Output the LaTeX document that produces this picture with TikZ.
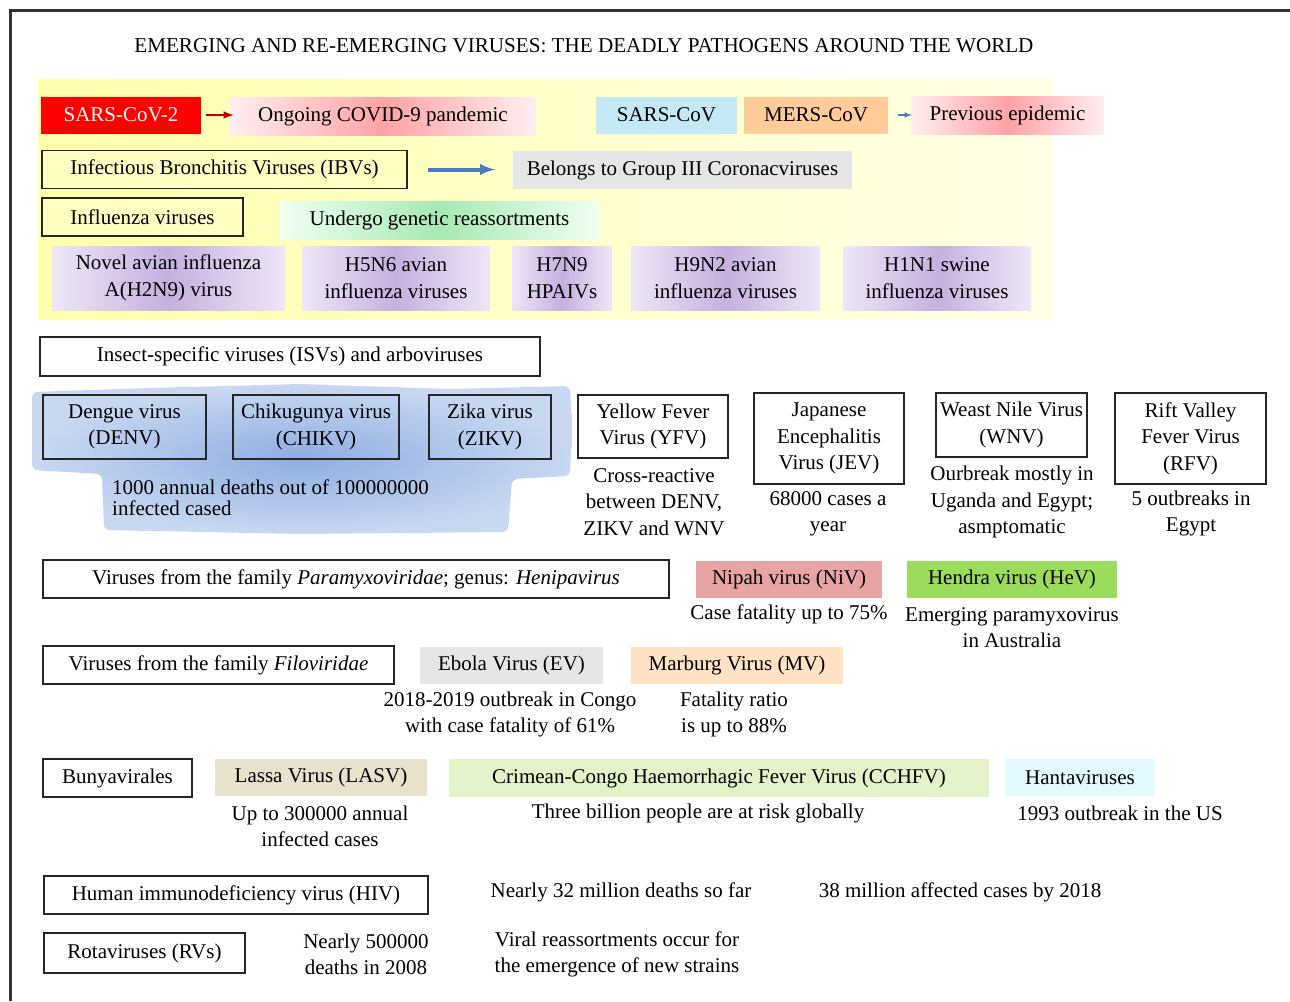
\documentclass[tikz,border=0pt]{standalone}
\usepackage{fontspec}
\setmainfont{Liberation Serif}
\usetikzlibrary{arrows}

\definecolor{framegray}{HTML}{333333}
\definecolor{bgyellowL}{HTML}{FFFFAC}
\definecolor{bgyellowM}{HTML}{FFFF74}
\definecolor{bgyellowR}{HTML}{FFFFE6}
\definecolor{pinkL}{HTML}{FFEEF0}
\definecolor{pinkM}{HTML}{FFA2A6}
\definecolor{greenL}{HTML}{F0FFF2}
\definecolor{greenM}{HTML}{A6E8B2}
\definecolor{lavL}{HTML}{EEE6F7}
\definecolor{lavM}{HTML}{C6B0E0}
\definecolor{sarscyan}{HTML}{C5E9F4}
\definecolor{mersorange}{HTML}{FFCC99}
\definecolor{lightgray}{HTML}{E6E6E6}
\definecolor{ibvyellow}{HTML}{FFFFC2}
\definecolor{blobM}{HTML}{8FADE2}
\definecolor{blobL}{HTML}{C8D8F1}
\definecolor{arrowblue}{HTML}{4A78C2}
\definecolor{nipahred}{HTML}{E8A4A4}
\definecolor{hendragreen}{HTML}{9CDC5C}
\definecolor{marburgpeach}{HTML}{FFE2C4}
\definecolor{lassabeige}{HTML}{E8E2CC}
\definecolor{cchfvgreen}{HTML}{E4F2CA}
\definecolor{hantacyan}{HTML}{E2FAFE}

\begin{document}
\begin{tikzpicture}[x=1pt,y=-1pt,
  base/.style={font=\fontsize{21}{26.5}\selectfont,align=center,inner sep=0pt},
  framed/.style={base,draw=black!85,line width=1.3pt,minimum height=38pt},
  filled/.style={base,minimum height=37pt},
  glow/.style={base,minimum height=38pt,left color=#1L,right color=#1L,middle color=#1M},
  lavbox/.style={base,minimum height=64pt,left color=lavL,right color=lavL,middle color=lavM},
  note/.style={base}]
\useasboundingbox (0,0) rectangle (1290,1001);
\draw[line width=3pt,framegray] (10,1001) -- (10,10) -- (1290,10);
\node (title) at (584,46) [base,font=\fontsize{21.1}{26.5}\selectfont] {EMERGING AND RE-EMERGING VIRUSES: THE DEADLY PATHOGENS AROUND THE WORLD};

% coronaviruses and influenza
\shade[left color=bgyellowL,middle color=bgyellowM,right color=bgyellowR] (38,79) rectangle (1052,319);
\node (sars2) at (121,115) [filled,fill=red,text=white,minimum width=160pt] {SARS-CoV-2};
\node (covid) at (383,116) [glow=pink,minimum width=306pt] {Ongoing COVID-9 pandemic};
\node (sars) at (666.5,115) [filled,fill=sarscyan,minimum width=141pt] {SARS-CoV};
\node (mers) at (816,115) [filled,fill=mersorange,minimum width=144pt] {MERS-CoV};
\node (prev) at (1007.5,115) [glow=pink,minimum width=193pt] {Previous epidemic};
\node (ibv) at (224.5,169.5) [framed,fill=ibvyellow,minimum width=365pt] {Infectious Bronchitis Viruses (IBVs)};
\node (group) at (682.5,170) [filled,fill=lightgray,minimum width=339pt,minimum height=38pt] {Belongs to Group III Coronacviruses};
\node (flu) at (142.5,217) [framed,fill=ibvyellow,minimum width=201pt] {Influenza viruses};
\node (reass) at (439.5,220) [glow=green,minimum width=319pt] {Undergo genetic reassortments};
\node (h2n9) at (168.5,278) [lavbox,minimum width=233pt] {Novel avian influenza\\A(H2N9) virus};
\node (h5n6) at (396,278) [lavbox,minimum width=188pt] {H5N6 avian\\influenza viruses};
\node (h7n9) at (562,278) [lavbox,minimum width=100pt] {H7N9\\HPAIVs};
\node (h9n2) at (725.5,278) [lavbox,minimum width=189pt] {H9N2 avian\\influenza viruses};
\node (h1n1) at (937,278) [lavbox,minimum width=188pt] {H1N1 swine\\influenza viruses};
\draw[-latex,line width=2.5pt,red!75!black,shorten <=5pt,shorten >=-4pt] (sars2.east) -- (covid.west |- sars2.east);
\draw[-latex,line width=1.5pt,arrowblue,shorten <=10pt,shorten >=-1pt] (mers.east) -- (prev.west |- mers.east);
\draw[-latex,line width=4pt,arrowblue,shorten <=20pt,shorten >=18pt] (ibv.east) -- (group.west |- ibv.east);

% arboviruses
\node (isv) at (290,356.5) [framed,fill=white,minimum width=500pt,minimum height=39pt] {Insect-specific viruses (ISVs) and arboviruses};
\shade[inner color=blobM,outer color=blobL,rounded corners=6pt] (32,392) -- (150,388) -- (300,384) -- (450,389) -- (570,386) -- (572,430) -- (570,476) -- (512,479) -- (508,532) -- (300,534) -- (104,530) -- (102,474) -- (32,470) -- cycle;
\node (denv) at (124.5,427) [framed,minimum width=163pt,minimum height=64pt] {Dengue virus\\(DENV)};
\node (chikv) at (316,427) [framed,minimum width=166pt,minimum height=64pt] {Chikugunya virus\\(CHIKV)};
\node (zikv) at (490,427) [framed,minimum width=122pt,minimum height=64pt] {Zika virus\\(ZIKV)};
\node (denvnote) at (112,498) [base,anchor=west,align=left,font=\fontsize{21}{21}\selectfont] {1000 annual deaths out of 100000000\\infected cased};
\node (yfv) at (653,426.5) [framed,minimum width=150pt,minimum height=63pt] {Yellow Fever\\Virus (YFV)};
\node (jev) at (829,438.5) [framed,minimum width=150pt,minimum height=91pt] {Japanese\\Encephalitis\\Virus (JEV)};
\node (wnv) at (1011.5,425) [framed,minimum width=151pt,minimum height=64pt] {Weast Nile Virus\\(WNV)};
\node (rfv) at (1190.5,438.5) [framed,minimum width=151pt,minimum height=91pt] {Rift Valley\\Fever Virus\\(RFV)};
\node (yfvnote) at (654,502) [note] {Cross-reactive\\between DENV,\\ZIKV and WNV};
\node (jevnote) at (828,514) [note] {68000 cases a\\year};
\node (wnvnote) at (1012,502) [note] {Ourbreak mostly in\\Uganda and Egypt;\\asmptomatic};
\node (rfvnote) at (1191,513.5) [note] {5 outbreaks in\\Egypt};

% henipaviruses and filoviruses
\node (para) at (356,579) [framed,minimum width=626pt] {Viruses from the family \textit{Paramyxoviridae}; genus: \textit{Henipavirus}};
\node (niv) at (789,579.5) [filled,fill=nipahred,minimum width=186pt] {Nipah virus (NiV)};
\node (hev) at (1012,579.5) [filled,fill=hendragreen,minimum width=210pt] {Hendra virus (HeV)};
\node (nivnote) at (789,614) [note] {Case fatality up to 75\%};
\node (hevnote) at (1012,627.5) [note] {Emerging paramyxovirus\\in Australia};
\node (filo) at (218.5,665) [framed,minimum width=351pt] {Viruses from the family \textit{Filoviridae}};
\node (ebola) at (511.5,665.5) [filled,fill=lightgray,minimum width=183pt] {Ebola Virus (EV)};
\node (marburg) at (737,665.5) [filled,fill=marburgpeach,minimum width=212pt] {Marburg Virus (MV)};
\node (ebolanote) at (510,714.5) [note] {2018-2019 outbreak in Congo\\with case fatality of 61\%};
\node (mvnote) at (734,714.5) [note] {Fatality ratio\\is up to 88\%};

% bunyavirales
\node (bunya) at (117.5,778) [framed,minimum width=149pt] {Bunyavirales};
\node (lassa) at (321,777.5) [filled,fill=lassabeige,minimum width=212pt] {Lassa Virus (LASV)};
\node (cchfv) at (719,778) [filled,fill=cchfvgreen,minimum width=540pt,minimum height=38pt] {Crimean-Congo Haemorrhagic Fever Virus (CCHFV)};
\node (hanta) at (1080,777.5) [filled,fill=hantacyan,minimum width=150pt] {Hantaviruses};
\node (lassanote) at (320,826.5) [note] {Up to 300000 annual\\infected cases};
\node (cchfvnote) at (698,813) [note] {Three billion people are at risk globally};
\node (hantanote) at (1120,813) [note] {1993 outbreak in the US};

% HIV and rotaviruses
\node (hiv) at (236,895) [framed,minimum width=384pt] {Human immunodeficiency virus (HIV)};
\node (hivnoteA) at (621,892) [note] {Nearly 32 million deaths so far};
\node (hivnoteB) at (960,892) [note] {38 million affected cases by 2018};
\node (rota) at (144.5,953) [framed,minimum width=201pt,minimum height=40pt] {Rotaviruses (RVs)};
\node (rotanoteA) at (366,954.5) [note] {Nearly 500000\\deaths in 2008};
\node (rotanoteB) at (617,954.5) [note] {Viral reassortments occur for\\the emergence of new strains};
\end{tikzpicture}
\end{document}
